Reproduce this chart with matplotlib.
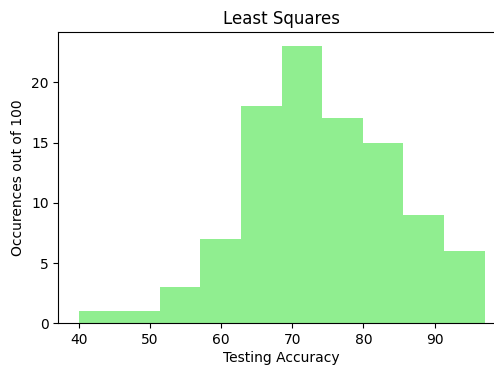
import matplotlib
matplotlib.use("Agg")
import matplotlib.pyplot as plt

bin_edges = [40.0, 45.7, 51.4, 57.1, 62.8, 68.5, 74.2, 79.9, 85.6, 91.3, 97.0]
counts = [1, 1, 3, 7, 18, 23, 17, 15, 9, 6]

fig, ax = plt.subplots(figsize=(4.94, 3.65), dpi=100)
widths = [bin_edges[i + 1] - bin_edges[i] for i in range(len(counts))]
ax.bar(bin_edges[:-1], counts, width=widths, align="edge", color="lightgreen")
ax.set_title("Least Squares")
ax.set_xlabel("Testing Accuracy", labelpad=2.5)
ax.set_ylabel("Occurences out of 100")
fig.subplots_adjust(left=0.118, right=1.022, top=0.9115, bottom=0.1142)
fig.savefig("out.png", dpi=100)
